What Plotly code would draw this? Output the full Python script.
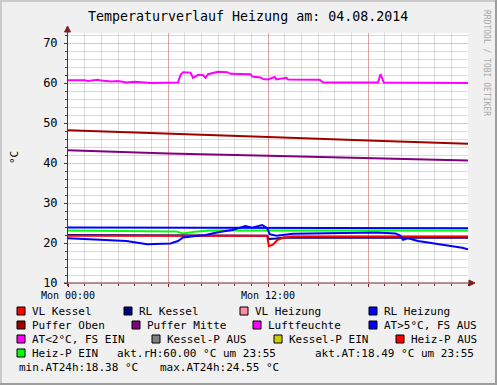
import plotly.graph_objects as go

# ---------------- data (hours since Mon 00:00) ----------------
title_text = "Temperaturverlauf Heizung am: 04.08.2014"
x_tick_vals = [0, 6, 12, 18]
x_tick_text = ["Mon 00:00", "", "Mon 12:00", ""]

rh_t = [0, 1.0, 1.2, 1.8, 2.0, 2.6, 3.0, 3.5, 4.0, 5.0, 6.6, 6.75, 6.9, 7.35, 7.5, 7.8, 8.1, 8.25, 8.4, 9.0, 9.55, 9.75, 10.95, 11.05, 11.55, 11.7, 12.0, 12.4, 12.5, 13.1, 13.2, 15.1, 15.3, 18.6, 18.75, 18.95, 24.0]
rh_v = [60.7, 60.7, 60.5, 60.8, 60.6, 60.4, 60.5, 60.1, 60.3, 60.0, 60.1, 62.0, 62.7, 62.6, 61.3, 62.0, 62.0, 61.3, 62.2, 62.8, 62.7, 62.3, 62.2, 61.6, 61.4, 61.0, 60.9, 61.5, 60.9, 61.3, 60.9, 60.8, 60.1, 60.1, 62.2, 60.1, 60.0]

puffer_oben_t = [0, 6, 12, 18, 24]
puffer_oben_v = [48.2, 47.4, 46.5, 45.6, 44.8]
puffer_mitte_t = [0, 6, 12, 18, 24]
puffer_mitte_v = [43.2, 42.4, 41.8, 41.2, 40.6]

rl_heiz_t = [0, 12, 24]
rl_heiz_v = [23.9, 23.8, 23.7]

heizp_t = [0, 6.5, 6.9, 7.6, 8.5, 24]
heizp_v = [23.1, 22.9, 22.4, 22.8, 23.1, 23.1]

rl_kessel_t = [0, 11.95, 12.05, 12.5, 13.0, 24]
rl_kessel_v = [22.0, 21.8, 21.0, 21.1, 21.4, 21.3]

vl_kessel_t = [0, 11.95, 12.05, 12.3, 12.55, 12.9, 13.5, 24]
vl_kessel_v = [21.8, 21.8, 19.2, 19.6, 20.7, 21.3, 21.6, 21.6]

at_t = [0, 1.5, 3.5, 4.75, 6.15, 6.6, 6.9, 7.65, 8.25, 9.0, 9.85, 10.65, 11.05, 11.65, 11.95, 12.1, 12.5, 13.5, 16.0, 18.5, 19.65, 19.95, 20.1, 20.4, 21.0, 22.05, 23.05, 23.65, 24.0]
at_v = [21.2, 20.9, 20.5, 19.7, 19.9, 20.5, 21.4, 21.75, 22.0, 22.7, 23.25, 24.25, 23.8, 24.5, 23.7, 22.2, 21.8, 22.3, 22.5, 22.6, 22.4, 21.8, 20.8, 21.2, 20.5, 19.9, 19.3, 18.8, 18.4]

legend_names = ["VL Kessel", "RL Kessel", "VL Heizung", "RL Heizung",
                "Puffer Oben", "Puffer Mitte", "Luftfeuchte", "AT>5°C, FS AUS",
                "AT<2°C, FS EIN", "Kessel-P AUS", "Kessel-P EIN", "Heiz-P AUS",
                "Heiz-P EIN"]
legend_colors = ["#FF0000", "#000080", "#FF8CA0", "#0000FF",
                 "#A00000", "#800080", "#FF00FF", "#0000FF",
                 "#FF00FF", "#808080", "#CCCC00", "#FF0000",
                 "#00FF00"]
extra_texts = ["akt.rH:60.00 °C um 23:55", "akt.AT:18.49 °C um 23:55",
               "min.AT24h:18.38 °C", "max.AT24h:24.55 °C"]

# ---------------- layout geometry (pixels) ----------------
W, H = 497, 385
L, R, T, B = 68, 29, 33, 102
PW, PH = W - L - R, H - T - B


def px(xp):
    return (xp - L) / PW


def py(yp):
    return (H - B - yp) / PH


MONO = "DejaVu Sans Mono"

fig = go.Figure()

series = [
    (rh_t, rh_v, "#FF00FF"),
    (puffer_oben_t, puffer_oben_v, "#A00000"),
    (puffer_mitte_t, puffer_mitte_v, "#800080"),
    (rl_heiz_t, rl_heiz_v, "#0000FF"),
    (heizp_t, heizp_v, "#00FF00"),
    (rl_kessel_t, rl_kessel_v, "#000080"),
    (vl_kessel_t, vl_kessel_v, "#FF0000"),
    (at_t, at_v, "#0000FF"),
]
for t, v, c in series:
    fig.add_trace(go.Scatter(x=t, y=v, mode="lines", line=dict(color=c, width=2),
                             line_shape="linear", showlegend=False, hoverinfo="skip"))

grid_minor = "rgba(143,143,143,0.32)"
grid_major = "rgba(222,80,80,0.38)"

fig.update_xaxes(range=[0, 24], tickvals=x_tick_vals, ticktext=x_tick_text,
                 showgrid=True, gridcolor=grid_major, gridwidth=1,
                 minor=dict(dtick=1, tick0=0, showgrid=True, gridcolor=grid_minor,
                            ticks="outside", ticklen=2, tickcolor="#7F1F1F"),
                 ticks="outside", ticklen=3, tickcolor="#7F1F1F",
                 ticklabelstandoff=0,
                 tickfont=dict(family=MONO, size=10, color="#000000"),
                 zeroline=False, showline=False, fixedrange=True)
fig.update_yaxes(range=[10, 72.5], tick0=10, dtick=10,
                 showgrid=True, gridcolor=grid_major, gridwidth=1,
                 minor=dict(dtick=2, tick0=10, showgrid=True, gridcolor=grid_minor,
                            ticks="outside", ticklen=2, tickcolor="#7F1F1F"),
                 ticks="outside", ticklen=3, tickcolor="#7F1F1F",
                 ticklabelstandoff=4,
                 tickfont=dict(family=MONO, size=12, color="#000000"),
                 zeroline=False, showline=False, fixedrange=True)

shapes = []
# frame of the image (3D-look border)
shapes += [
    dict(type="rect", xref="paper", yref="paper", x0=px(0), x1=px(2), y0=py(H), y1=py(0),
         fillcolor="#CBCBCB", line=dict(width=0), layer="above"),
    dict(type="rect", xref="paper", yref="paper", x0=px(0), x1=px(W), y0=py(2), y1=py(0),
         fillcolor="#CBCBCB", line=dict(width=0), layer="above"),
    dict(type="rect", xref="paper", yref="paper", x0=px(W - 2), x1=px(W), y0=py(H), y1=py(0),
         fillcolor="#9E9E9E", line=dict(width=0), layer="above"),
    dict(type="rect", xref="paper", yref="paper", x0=px(0), x1=px(W), y0=py(H), y1=py(H - 2),
         fillcolor="#9E9E9E", line=dict(width=0), layer="above"),
]
axis_col = "#6E2626"
arrow_col = "#7F1F1F"
# axes with arrows
shapes += [
    dict(type="line", xref="paper", yref="paper", x0=px(67.5), x1=px(67.5), y0=py(286), y1=py(30),
         line=dict(color=axis_col, width=1), layer="above"),
    dict(type="line", xref="paper", yref="paper", x0=px(64), x1=px(471), y0=py(283), y1=py(283),
         line=dict(color=axis_col, width=1), layer="above"),
    dict(type="path", xref="paper", yref="paper",
         path=f"M {px(64.5)} {py(32)} L {px(70.5)} {py(32)} L {px(67.5)} {py(26)} Z",
         fillcolor=arrow_col, line=dict(color=arrow_col, width=1), layer="above"),
    dict(type="path", xref="paper", yref="paper",
         path=f"M {px(469)} {py(280)} L {px(469)} {py(286)} L {px(475)} {py(283)} Z",
         fillcolor=arrow_col, line=dict(color=arrow_col, width=1), layer="above"),
]

annotations = []
annotations.append(dict(text=title_text, xref="paper", yref="paper", x=px(248), y=py(17),
                        xanchor="center", yanchor="middle", showarrow=False,
                        font=dict(family=MONO, size=13.3, color="#000000")))
annotations.append(dict(text="°C", xref="paper", yref="paper", x=px(14), y=py(158),
                        xanchor="center", yanchor="middle", showarrow=False, textangle=-90,
                        font=dict(family=MONO, size=11, color="#000000")))
annotations.append(dict(text="RRDTOOL / TOBI OETIKER", xref="paper", yref="paper",
                        x=px(487), y=py(63), xanchor="center", yanchor="middle",
                        showarrow=False, textangle=90,
                        font=dict(family=MONO, size=8, color="#A8A8A8")))

# legend positions (swatch left x, row center y)
rows = [311, 325, 339, 353]
leg_pos = [(17, 0), (124, 0), (240, 0), (369, 0),
           (17, 1), (132, 1), (253, 1), (369, 1),
           (17, 2), (152, 2), (274, 2), (396, 2),
           (17, 3)]
for name, col, (sx, r) in zip(legend_names, legend_colors, leg_pos):
    cy = rows[r]
    shapes.append(dict(type="rect", xref="paper", yref="paper",
                       x0=px(sx), x1=px(sx + 8), y0=py(cy + 4), y1=py(cy - 4),
                       fillcolor=col, line=dict(color="#000000", width=1), layer="above"))
    annotations.append(dict(text=name, xref="paper", yref="paper", x=px(sx + 13), y=py(cy),
                            xanchor="left", yanchor="middle", showarrow=False,
                            font=dict(family=MONO, size=11, color="#000000")))
extra_pos = [(115, 353), (313, 353), (17, 367), (158, 367)]
for txt, (tx, ty) in zip(extra_texts, extra_pos):
    annotations.append(dict(text=txt, xref="paper", yref="paper", x=px(tx), y=py(ty),
                            xanchor="left", yanchor="middle", showarrow=False,
                            font=dict(family=MONO, size=11, color="#000000")))

fig.update_layout(width=W, height=H, margin=dict(l=L, r=R, t=T, b=B, autoexpand=False),
                  paper_bgcolor="#F0F0F0", plot_bgcolor="#FFFFFF",
                  shapes=shapes, annotations=annotations, showlegend=False)

fig.write_html("out.html", config={"displayModeBar": False},
               post_script="document.body.style.margin='0';document.body.style.overflow='hidden';")
